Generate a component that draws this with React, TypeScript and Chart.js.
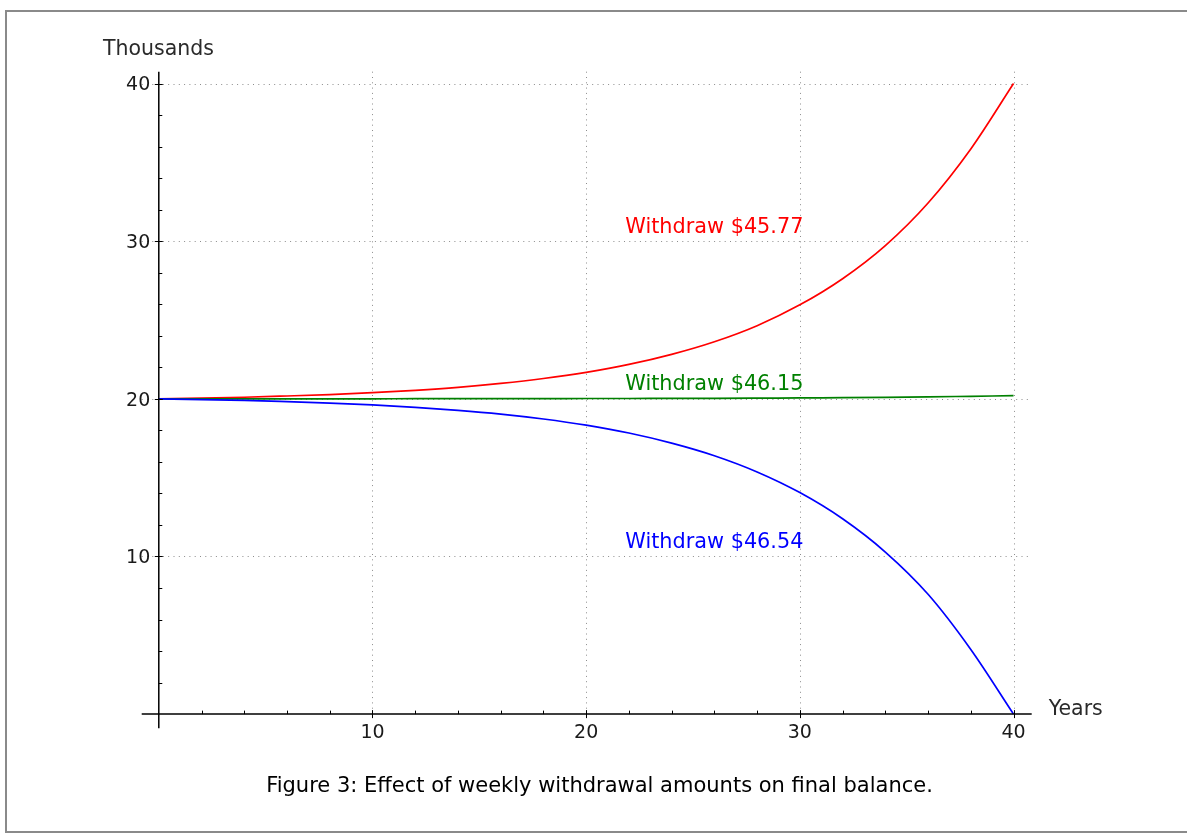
import React, { useEffect, useRef } from "react";
import { Chart, registerables } from "chart.js";

Chart.register(...registerables);

// ---- data (thousands of dollars vs. years) ----
const years = [0, 2, 4, 6, 8, 10, 12, 14, 16, 18, 20, 22, 24, 26, 28, 30, 32, 34, 36, 38, 40];
const withdraw4577 = [20.0, 20.05, 20.1, 20.18, 20.27, 20.39, 20.54, 20.73, 20.98, 21.29, 21.68, 22.18, 22.82, 23.62, 24.64, 25.96, 27.62, 29.72, 32.42, 35.85, 40.0];
const withdraw4615 = [20.0, 20.0, 20.0, 20.0, 20.0, 20.0, 20.01, 20.01, 20.01, 20.01, 20.02, 20.02, 20.03, 20.03, 20.04, 20.06, 20.07, 20.09, 20.12, 20.16, 20.2];
const withdraw4654 = [20.0, 19.95, 19.9, 19.82, 19.73, 19.61, 19.46, 19.27, 19.03, 18.72, 18.33, 17.83, 17.19, 16.39, 15.36, 14.05, 12.39, 10.28, 7.6, 4.1, 0.0];

const seriesNames = ["Withdraw $45.77", "Withdraw $46.15", "Withdraw $46.54"];
const seriesColors = ["#ff0000", "#008000", "#0000ff"];
const labelX = [26, 26, 26];
const labelY = [31, 21, 11];

const xMajorTicks = [10, 20, 30, 40];
const yMajorTicks = [10, 20, 30, 40];
const xMinorTicks = [2, 4, 6, 8, 12, 14, 16, 18, 22, 24, 26, 28, 32, 34, 36, 38];
const yMinorTicks = [2, 4, 6, 8, 12, 14, 16, 18, 22, 24, 26, 28, 32, 34, 36, 38];

const xAxisLabel = "Years";
const yAxisLabel = "Thousands";
const caption = "Figure 3: Effect of weekly withdrawal amounts on final balance.";

const FONT = '"DejaVu Sans", Verdana, sans-serif';

const sagePlugin = {
  id: "sageAxes",
  beforeDatasetsDraw(chart: any) {
    const { ctx, chartArea } = chart;
    const xs = chart.scales.x;
    const ys = chart.scales.y;
    const y0 = ys.getPixelForValue(0);
    ctx.save();
    ctx.strokeStyle = "#8c8c8c";
    ctx.lineWidth = 1;
    ctx.setLineDash([1, 4.3]);
    for (const v of xMajorTicks) {
      const px = Math.round(xs.getPixelForValue(v)) + 0.5;
      ctx.beginPath();
      ctx.moveTo(px, chartArea.top);
      ctx.lineTo(px, y0 + 4);
      ctx.stroke();
    }
    for (const v of yMajorTicks) {
      const py = Math.round(ys.getPixelForValue(v)) + 0.5;
      ctx.beginPath();
      ctx.moveTo(chartArea.left, py);
      ctx.lineTo(chartArea.right, py);
      ctx.stroke();
    }
    ctx.restore();
  },
  afterDatasetsDraw(chart: any) {
    const { ctx, chartArea } = chart;
    const xs = chart.scales.x;
    const ys = chart.scales.y;
    const x0 = xs.getPixelForValue(0);
    const y0 = ys.getPixelForValue(0);
    ctx.save();
    ctx.setLineDash([]);
    ctx.strokeStyle = "#000";
    ctx.lineWidth = 1.5;
    // axes
    ctx.beginPath();
    ctx.moveTo(chartArea.left, y0);
    ctx.lineTo(chartArea.right, y0);
    ctx.moveTo(x0, chartArea.bottom);
    ctx.lineTo(x0, chartArea.top);
    ctx.stroke();
    // ticks
    ctx.lineWidth = 1;
    ctx.beginPath();
    for (const v of xMajorTicks) {
      const px = Math.round(xs.getPixelForValue(v)) + 0.5;
      ctx.moveTo(px, y0 - 4);
      ctx.lineTo(px, y0 + 4);
    }
    for (const v of xMinorTicks) {
      const px = Math.round(xs.getPixelForValue(v)) + 0.5;
      ctx.moveTo(px, y0);
      ctx.lineTo(px, y0 - 3.5);
    }
    for (const v of yMajorTicks) {
      const py = Math.round(ys.getPixelForValue(v)) + 0.5;
      ctx.moveTo(x0 - 4, py);
      ctx.lineTo(x0 + 4, py);
    }
    for (const v of yMinorTicks) {
      const py = Math.round(ys.getPixelForValue(v)) + 0.5;
      ctx.moveTo(x0, py);
      ctx.lineTo(x0 + 3.5, py);
    }
    ctx.stroke();
    // tick labels
    ctx.fillStyle = "#1a1a1a";
    ctx.font = `19px ${FONT}`;
    ctx.textBaseline = "alphabetic";
    ctx.textAlign = "center";
    for (const v of xMajorTicks) {
      ctx.fillText(String(v), xs.getPixelForValue(v), y0 + 23.5);
    }
    ctx.textAlign = "right";
    for (const v of yMajorTicks) {
      ctx.fillText(String(v), x0 - 8.5, ys.getPixelForValue(v) + 6.8);
    }
    // axis labels
    ctx.font = `20.5px ${FONT}`;
    ctx.fillStyle = "#2a2a2a";
    ctx.textAlign = "left";
    ctx.fillText(yAxisLabel, 103, chartArea.top - 16.5);
    ctx.fillText(xAxisLabel, chartArea.right + 17, y0 + 1);
    // series annotations
    ctx.font = `20.8px ${FONT}`;
    ctx.textAlign = "center";
    for (let i = 0; i < seriesNames.length; i++) {
      ctx.fillStyle = seriesColors[i];
      ctx.fillText(seriesNames[i], xs.getPixelForValue(labelX[i]), ys.getPixelForValue(labelY[i]) + 7.3);
    }
    ctx.restore();
  },
};

const frameLine: React.CSSProperties = { position: "absolute", background: "#8a8a8a" };

export default function App() {
  const canvasRef = useRef<HTMLCanvasElement | null>(null);

  useEffect(() => {
    const canvas = canvasRef.current;
    if (!canvas) return;
    const series = [withdraw4654, withdraw4615, withdraw4577];
    const colors = [seriesColors[2], seriesColors[1], seriesColors[0]];
    const names = [seriesNames[2], seriesNames[1], seriesNames[0]];
    const chart = new Chart(canvas, {
      type: "line",
      data: {
        datasets: series.map((vals, i) => ({
          label: names[i],
          data: years.map((yr, j) => ({ x: yr, y: vals[j] })),
          borderColor: colors[i],
          backgroundColor: colors[i],
          borderWidth: 1.7,
          pointRadius: 0,
          fill: false,
          cubicInterpolationMode: "monotone" as const,
        })),
      },
      options: {
        responsive: false,
        animation: false,
        devicePixelRatio: 1,
        layout: { padding: { left: 141.7, right: 155.3, top: 71.7, bottom: 104.7 } },
        plugins: { legend: { display: false }, tooltip: { enabled: false } },
        scales: {
          x: { type: "linear", min: -0.8, max: 40.85, display: false },
          y: { type: "linear", min: -0.9, max: 40.75, display: false },
        },
      },
      plugins: [sagePlugin],
    });
    return () => chart.destroy();
  }, []);

  return (
    <div style={{ position: "fixed", left: 0, top: 0, width: 1187, height: 833, overflow: "hidden", background: "#fff" }}>
      <div style={{ ...frameLine, left: 5, top: 10, width: 1182, height: 2 }} />
      <div style={{ ...frameLine, left: 5, top: 10, width: 2, height: 823 }} />
      <div style={{ ...frameLine, left: 5, top: 831, width: 1182, height: 2 }} />
      <canvas ref={canvasRef} width={1187} height={833} style={{ position: "absolute", left: 0, top: 0, width: 1187, height: 833 }} />
      <div
        style={{
          position: "absolute",
          left: 0,
          width: 1199,
          top: 773,
          textAlign: "center",
          fontFamily: FONT,
          fontSize: 21,
          lineHeight: "24px",
          color: "#000",
        }}
      >
        {caption}
      </div>
    </div>
  );
}
